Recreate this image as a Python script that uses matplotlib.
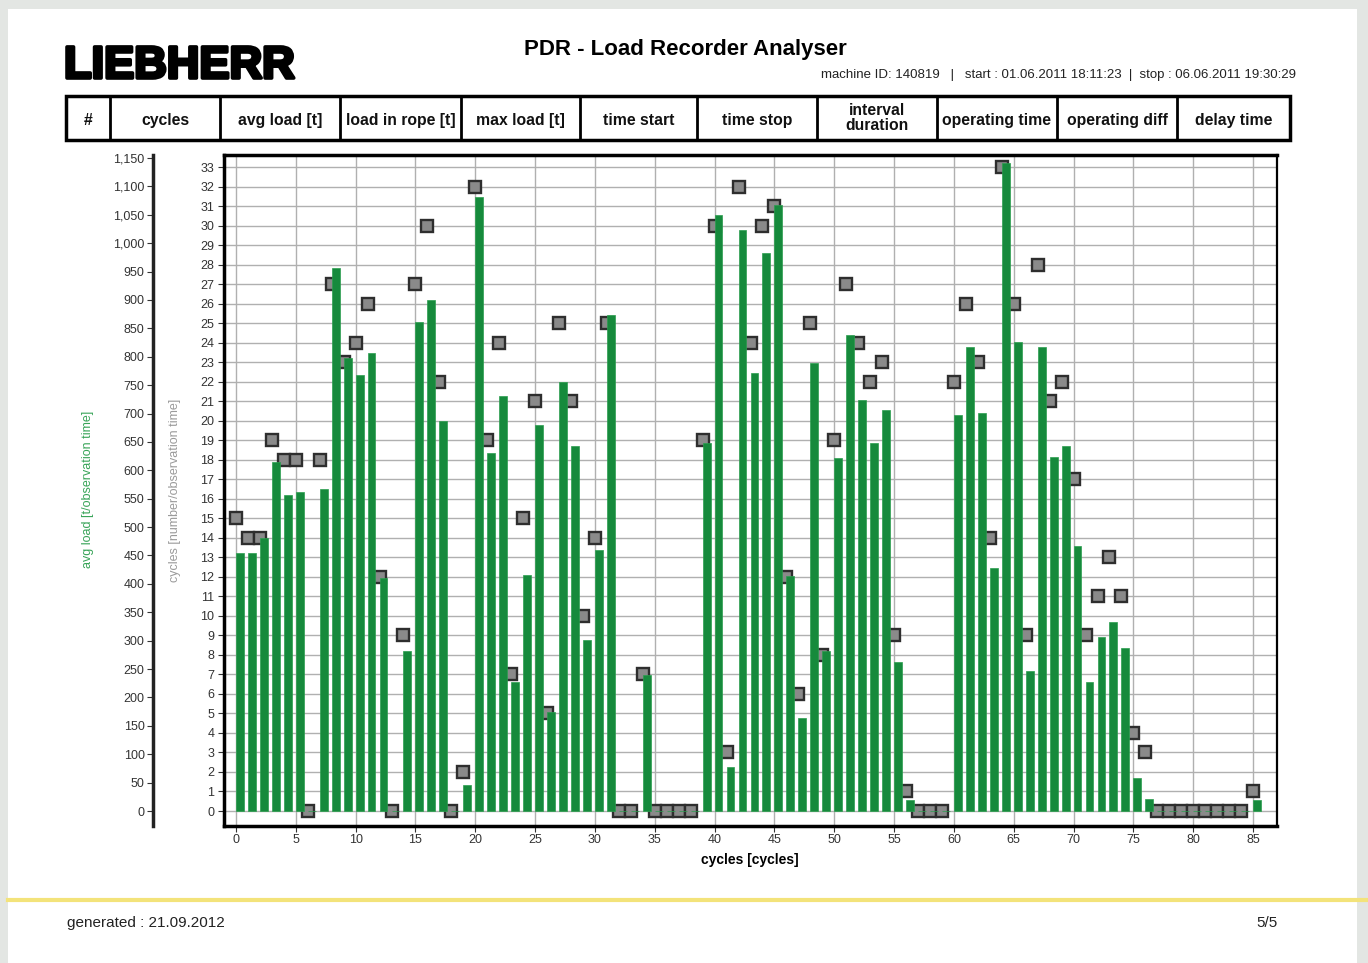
import matplotlib
matplotlib.use('Agg')
import matplotlib.pyplot as plt
from matplotlib.patches import Rectangle
from matplotlib.lines import Line2D
import matplotlib.patheffects as pe
from matplotlib.ticker import FuncFormatter

plt.rcParams['font.family'] = ['Liberation Sans', 'DejaVu Sans']

# ---------------- data ----------------
cycle_index = list(range(86))
avg_load = [455, 455, 480, 615, 556, 562, 0, 567, 956, 798, 768, 807, 410, 0, 281, 862, 900, 686, 0, 46,
            1082, 630, 730, 228, 416, 680, 175, 756, 642, 301, 460, 874, 0, 0, 240, 0, 0, 0, 0, 648,
            1050, 78, 1023, 771, 983, 1067, 413, 164, 789, 281, 622, 838, 724, 648, 706, 263, 19, 0, 0, 0,
            697, 818, 701, 428, 1141, 826, 246, 818, 624, 643, 467, 228, 307, 333, 287, 58, 21,
            0, 0, 0, 0, 0, 0, 0, 0, 19]
cycles = [15, 14, 14, 19, 18, 18, 0, 18, 27, 23, 24, 26, 12, 0, 9, 27, 30, 22, 0, 2,
          32, 19, 24, 7, 15, 21, 5, 25, 21, 10, 14, 25, 0, 0, 7, 0, 0, 0, 0, 19,
          30, 3, 32, 24, 30, 31, 12, 6, 25, 8, 19, 27, 24, 22, 23, 9, 1, 0, 0, 0,
          22, 26, 23, 14, 33, 26, 9, 28, 21, 22, 17, 9, 11, 13, 11, 4, 3,
          0, 0, 0, 0, 0, 0, 0, 0, 1]
cycle_ticks = list(range(0, 34))
load_ticks = list(range(0, 1151, 50))
x_ticks = list(range(0, 86, 5))
header_labels = ['#', 'cycles', 'avg load [t]', 'load in rope [t]', 'max load [t]', 'time start',
                 'time stop', 'interval\nduration', 'operating time', 'operating diff', 'delay time']
title = 'PDR - Load Recorder Analyser'
subtitle = 'machine ID: 140819   |   start : 01.06.2011 18:11:23  |  stop : 06.06.2011 19:30:29'
footer_left = 'generated : 21.09.2012'
footer_right = '5/5'

# ---------------- layout helpers ----------------
W, H = 1368, 963
fig = plt.figure(figsize=(W / 100, H / 100), dpi=100)
fig.patch.set_facecolor('#e3e6e3')


def fx(x):
    return x / W


def fy(y):
    return 1 - y / H


page = Rectangle((fx(8), 0), fx(1357) - fx(8), fy(9), transform=fig.transFigure,
                 facecolor='white', edgecolor='none')
fig.add_artist(page)
page.set_zorder(-10)

# logo / title
fig.text(fx(64), fy(78), 'LIEBHERR', fontsize=32.5, fontweight='bold', va='baseline', ha='left',
         color='black', path_effects=[pe.withStroke(linewidth=2.6, foreground='black')])
fig.text(fx(685), fy(50), title, fontsize=16, fontweight='bold', ha='center', va='center')
fig.text(fx(1296), fy(75), subtitle, fontsize=9.5, ha='right', va='center', color='#222222')

# header table
col_edges = [66, 110, 220, 340, 461, 580, 697, 817, 937, 1057, 1177, 1290]
t_top, t_bot = 96, 140
fig.add_artist(Rectangle((fx(66), fy(t_bot)), fx(1290) - fx(66), fy(t_top) - fy(t_bot),
                         transform=fig.transFigure, facecolor='none', edgecolor='black', lw=2.5))
for xe in col_edges[1:-1]:
    fig.add_artist(Line2D([fx(xe), fx(xe)], [fy(t_top), fy(t_bot)], transform=fig.transFigure,
                          color='black', lw=2))
for i, lab in enumerate(header_labels):
    cx = (col_edges[i] + col_edges[i + 1]) / 2
    if '\n' in lab:
        fig.text(fx(cx), fy(118), lab, fontsize=11.3, fontweight='bold', ha='center', va='center',
                 linespacing=1.0, color='#111111')
    else:
        fig.text(fx(cx), fy(119), lab, fontsize=11.3, fontweight='bold', ha='center',
                 va='center_baseline', color='#111111')

# ---------------- axes ----------------
ax_l, ax_r, ax_t, ax_b = 224, 1277, 155, 826
rect = [fx(ax_l), fy(ax_b), fx(ax_r) - fx(ax_l), fy(ax_t) - fy(ax_b)]
ax = fig.add_axes(rect)
axb = fig.add_axes(rect)

zero_px = 811
c_per_px = 33 / (811 - 167)
l_per_px = 1150 / (811 - 158)
ax.set_ylim(-(ax_b - zero_px) * c_per_px, (zero_px - ax_t) * c_per_px)
axb.set_ylim(-(ax_b - zero_px) * l_per_px, (zero_px - ax_t) * l_per_px)
ax.set_xlim(-1.0, 87.0)
axb.set_xlim(-1.0, 87.0)

# squares (cycles) on bottom axes
ax.plot(cycle_index, cycles, 's', ms=8.8, mfc='#8a8a8a', mec='#2e2e2e', mew=1.7,
        zorder=3, clip_on=False)
ax.set_yticks(cycle_ticks)
ax.set_xticks(x_ticks)
ax.grid(True, color='#b0b0b0', lw=1.0)
ax.set_axisbelow(True)
for s in ['left', 'bottom', 'top']:
    ax.spines[s].set_linewidth(2.5)
ax.spines['right'].set_linewidth(1.6)
ax.tick_params(axis='both', labelsize=9, colors='#333333', length=4, width=0.8, pad=2)
ax.tick_params(axis='y', pad=3)

# bars (avg load) on top axes
axb.bar([i + 0.33 for i in cycle_index], avg_load, width=0.66, color='#168a3c',
        edgecolor='#2a9e4e', lw=0.5, zorder=2)
axb.patch.set_visible(False)
for s in ['right', 'bottom', 'top']:
    axb.spines[s].set_visible(False)
axb.spines['left'].set_position(('axes', -(ax_l - 153) / (ax_r - ax_l)))
axb.spines['left'].set_linewidth(2.5)
axb.spines['left'].set_color('#222222')
axb.set_xticks([])
axb.set_yticks(load_ticks)
axb.yaxis.set_major_formatter(FuncFormatter(lambda v, p: f'{int(v):,}'))
axb.tick_params(axis='y', labelsize=9, colors='#333333', length=4, width=0.8, pad=2)

# axis labels
fig.text(fx(88), fy(489), 'avg load [t/observation time]', rotation=90, fontsize=9,
         color='#38a458', ha='center', va='center')
fig.text(fx(175), fy(490), 'cycles [number/observation time]', rotation=90, fontsize=9,
         color='#9a9a9a', ha='center', va='center')
fig.text(fx(750), fy(860), 'cycles [cycles]', fontsize=10, fontweight='bold',
         ha='center', va='center')

# footer
fig.add_artist(Line2D([fx(8), 1], [fy(900), fy(900)], transform=fig.transFigure,
                      color='#f3e37a', lw=3))
fig.text(fx(67), fy(923), footer_left, fontsize=11, ha='left', va='center', color='#222222')
fig.text(fx(1278), fy(923), footer_right, fontsize=11, ha='right', va='center', color='#222222')

fig.savefig('out.png', dpi=100)
